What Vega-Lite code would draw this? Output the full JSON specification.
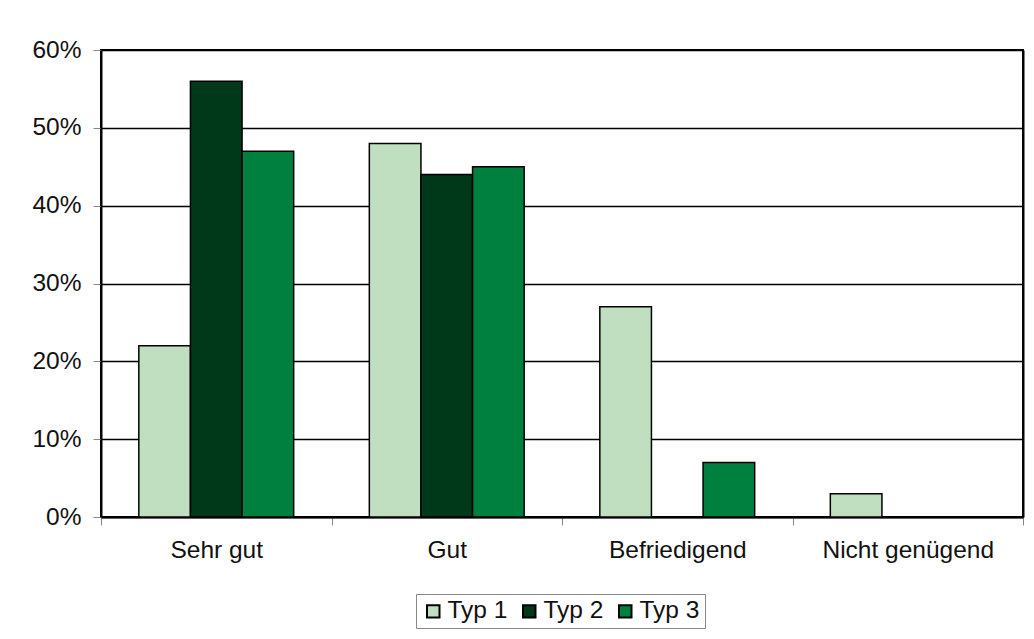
{
  "$schema": "https://vega.github.io/schema/vega-lite/v6.json",
  "width": 922,
  "height": 467,
  "autosize": "none",
  "padding": {"left": 101, "top": 50, "right": 11, "bottom": 122},
  "background": "white",
  "data": {
    "values": [
      {"Bewertung": "Sehr gut", "Typ": "Typ 1", "Anteil": 0.22},
      {"Bewertung": "Sehr gut", "Typ": "Typ 2", "Anteil": 0.56},
      {"Bewertung": "Sehr gut", "Typ": "Typ 3", "Anteil": 0.47},
      {"Bewertung": "Gut", "Typ": "Typ 1", "Anteil": 0.48},
      {"Bewertung": "Gut", "Typ": "Typ 2", "Anteil": 0.44},
      {"Bewertung": "Gut", "Typ": "Typ 3", "Anteil": 0.45},
      {"Bewertung": "Befriedigend", "Typ": "Typ 1", "Anteil": 0.27},
      {"Bewertung": "Befriedigend", "Typ": "Typ 2", "Anteil": 0.0},
      {"Bewertung": "Befriedigend", "Typ": "Typ 3", "Anteil": 0.07},
      {"Bewertung": "Nicht genügend", "Typ": "Typ 1", "Anteil": 0.03},
      {"Bewertung": "Nicht genügend", "Typ": "Typ 2", "Anteil": 0.0},
      {"Bewertung": "Nicht genügend", "Typ": "Typ 3", "Anteil": 0.0}
    ]
  },
  "encoding": {
    "x": {
      "field": "Bewertung",
      "type": "nominal",
      "sort": ["Sehr gut", "Gut", "Befriedigend", "Nicht genügend"],
      "scale": {"paddingInner": 0, "paddingOuter": 0},
      "axis": {
        "title": null,
        "labelAngle": 0,
        "tickBand": "extent",
        "tickColor": "#888",
        "tickSize": 8,
        "tickWidth": 1,
        "domainColor": "#000",
        "domainWidth": 2,
        "labelPadding": 13,
        "grid": false
      }
    },
    "xOffset": {
      "field": "Typ",
      "type": "nominal",
      "scale": {"paddingInner": 0, "paddingOuter": 0.733}
    }
  },
  "layer": [
    {
      "mark": {"type": "bar", "stroke": "#000", "strokeWidth": 1.5},
      "encoding": {
        "y": {
          "field": "Anteil",
          "type": "quantitative",
          "scale": {"domain": [0, 0.6], "nice": false},
          "axis": {
            "title": null,
            "format": ".0%",
            "values": [0, 0.1, 0.2, 0.3, 0.4, 0.5, 0.6],
            "grid": true,
            "gridColor": "#000",
            "gridWidth": 1.5,
            "tickColor": "#888",
            "tickSize": 8,
            "tickWidth": 1,
            "domainColor": "#000",
            "domainWidth": 2,
            "labelPadding": 12
          }
        },
        "color": {
          "field": "Typ",
          "type": "nominal",
          "scale": {
            "domain": ["Typ 1", "Typ 2", "Typ 3"],
            "range": ["#c0dfc0", "#00381a", "#00803f"]
          },
          "legend": {
            "title": null,
            "orient": "none",
            "legendX": 315,
            "legendY": 544,
            "direction": "horizontal",
            "strokeColor": "#888",
            "fillColor": "white",
            "padding": 5,
            "symbolType": "square",
            "symbolSize": 156,
            "symbolStrokeColor": "#000",
            "symbolStrokeWidth": 2,
            "symbolOpacity": 1,
            "labelFont": "Liberation Sans",
            "labelFontSize": 24.5,
            "labelColor": "#111",
            "labelOffset": 2,
            "columnPadding": 9
          }
        }
      }
    },
    {
      "mark": {"type": "bar", "opacity": 0},
      "encoding": {
        "y": {
          "field": "Anteil",
          "type": "quantitative",
          "axis": {
            "orient": "right",
            "title": null,
            "labels": false,
            "ticks": false,
            "grid": false,
            "domainColor": "#000",
            "domainWidth": 2
          }
        }
      }
    }
  ],
  "resolve": {"axis": {"y": "independent"}},
  "config": {
    "view": {"stroke": "#000", "strokeWidth": 2},
    "axis": {
      "labelFont": "Liberation Sans",
      "labelFontSize": 24.5,
      "labelColor": "#111"
    }
  }
}
